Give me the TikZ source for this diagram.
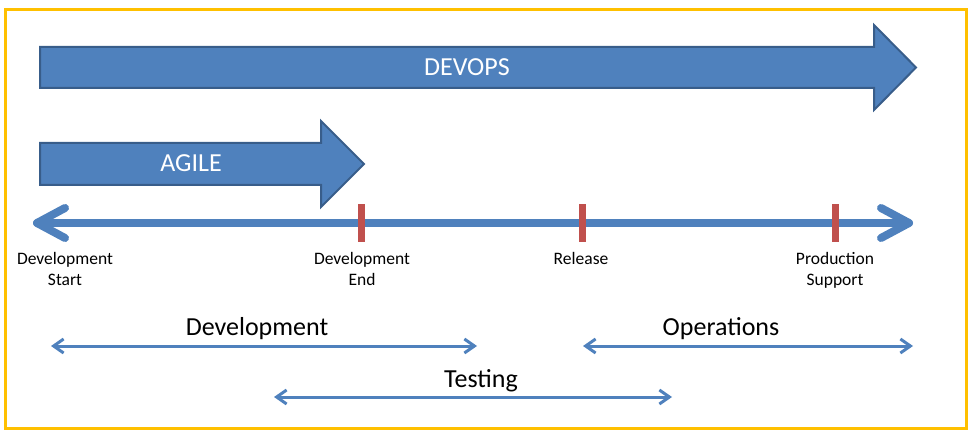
\documentclass[tikz,border=0pt]{standalone}
\usepackage{fontspec}
\setmainfont{Carlito}
\usetikzlibrary{arrows.meta}
\definecolor{obl}{HTML}{4F81BD}
\definecolor{obd}{HTML}{385D8A}
\definecolor{ored}{HTML}{C0504D}
\definecolor{oyel}{HTML}{FFC000}
\begin{document}
\begin{tikzpicture}[x=1pt,y=-1pt,
  bigarrow/.style={fill=obl,draw=obd,line width=2pt,line join=miter},
  biglabel/.style={text=white,font=\fontsize{26}{30}\selectfont,inner sep=0pt,anchor=base},
  tline/.style={draw=obl,line width=8pt,line cap=round,line join=round},
  tickmark/.style={fill=ored,draw=none,minimum width=7pt,minimum height=38pt,inner sep=0pt},
  small/.style={font=\fontsize{17.5}{21}\selectfont,align=center,inner sep=0pt},
  span/.style={draw=obl,line width=3pt,{Straight Barb[length=10pt,width=14pt]}-{Straight Barb[length=10pt,width=14pt]}},
  spanlabel/.style={font=\fontsize{26}{30}\selectfont,inner sep=0pt,anchor=base}]
\useasboundingbox (0,0) rectangle (973,435);
\draw[oyel,line width=3pt] (5,10) rectangle (966,428);
% big arrows
\draw[bigarrow] (40,47) -- (874,47) -- (874,25) -- (916,67.5) -- (874,110) -- (874,88) -- (40,88) -- cycle;
\node[biglabel] (devops) at (467,76) {DEVOPS};
\draw[bigarrow] (40,143) -- (321,143) -- (321,121) -- (364,164) -- (321,207) -- (321,185) -- (40,185) -- cycle;
\node[biglabel] (agile) at (191,172) {AGILE};
% timeline
\coordinate (tl) at (37,223);
\coordinate (tr) at (909,223);
\draw[tline] (tl) -- (tr);
\draw[tline] ([shift={(28,-15)}]tl) -- (tl) -- ([shift={(28,15)}]tl);
\draw[tline] ([shift={(-28,-15)}]tr) -- (tr) -- ([shift={(-28,15)}]tr);
\node[tickmark] (t1) at (361,223) {};
\node[tickmark] (t2) at (582,223) {};
\node[tickmark] (t3) at (835,223) {};
\node[small] (lds) at (65,268.5) {Development\\Start};
\node[small] (lde) at (362,268.5) {Development\\End};
\node[small,anchor=base] (lrel) at (581,264.5) {Release};
\node[small] (lps) at (835,270.5) {Production\\Support};
% spans
\coordinate (da) at (51,346);
\coordinate (db) at (477,346);
\coordinate (oa) at (583,346);
\coordinate (ob) at (913,346);
\coordinate (ta) at (274,397);
\coordinate (tb) at (672,397);
\draw[span] (da) -- (db);
\draw[span] (oa) -- (ob);
\draw[span] (ta) -- (tb);
\node[spanlabel] (ldev) at (257,335) {Development};
\node[spanlabel] (lops) at (721,335) {Operations};
\node[spanlabel] (ltest) at (481,387) {Testing};
\end{tikzpicture}
\end{document}
